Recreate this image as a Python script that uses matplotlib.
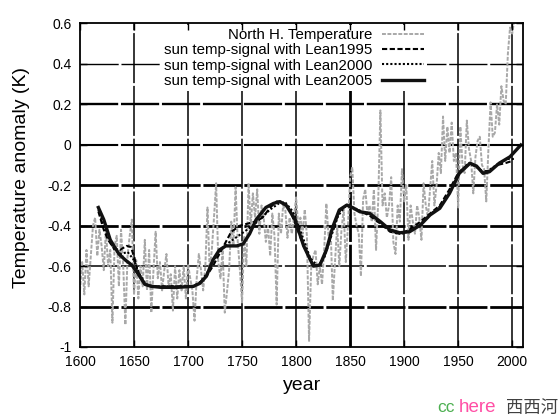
import numpy as np
import matplotlib
matplotlib.use("Agg")
import matplotlib.pyplot as plt

plt.rcParams['font.family'] = ['Liberation Sans', 'Noto Sans CJK SC', 'DejaVu Sans']
plt.rcParams['axes.unicode_minus'] = False

# ---------------- data ----------------
nh_start = 1600
nh_step = 2
nh_temp = [
    -0.72, -0.58, -0.74, -0.52, -0.70,   # 1600
    -0.55, -0.40, -0.36, -0.55, -0.42,   # 1610
    -0.50, -0.62, -0.42, -0.60, -0.52,   # 1620
    -0.88, -0.50, -0.45, -0.70, -0.42,   # 1630
    -0.60, -0.89, -0.55, -0.45, -0.37,   # 1640
    -0.74, -0.57, -0.76, -0.60, -0.70,   # 1650
    -0.47, -0.72, -0.52, -0.83, -0.62,   # 1660
    -0.43, -0.66, -0.58, -0.72, -0.62,   # 1670
    -0.54, -0.70, -0.64, -0.82, -0.60,   # 1680
    -0.76, -0.62, -0.72, -0.60, -0.76,   # 1690
    -0.59, -0.66, -0.72, -0.87, -0.66,   # 1700
    -0.54, -0.62, -0.72, -0.60, -0.31,   # 1710
    -0.62, -0.52, -0.36, -0.19, -0.58,   # 1720
    -0.66, -0.52, -0.83, -0.73, -0.62,   # 1730
    -0.38, -0.50, -0.21, -0.48, -0.62,   # 1740
    -0.78, -0.45, -0.60, -0.19, -0.40,   # 1750
    -0.24, -0.36, -0.22, -0.44, -0.30,   # 1760
    -0.36, -0.48, -0.40, -0.55, -0.34,   # 1770
    -0.45, -0.79, -0.34, -0.44, -0.30,   # 1780
    -0.32, -0.46, -0.36, -0.44, -0.36,   # 1790
    -0.26, -0.40, -0.36, -0.44, -0.32,   # 1800
    -0.45, -0.97, -0.60, -0.55, -0.52,   # 1810
    -0.69, -0.60, -0.69, -0.52, -0.29,   # 1820
    -0.45, -0.42, -0.77, -0.58, -0.40,   # 1830
    -0.60, -0.42, -0.32, -0.58, -0.40,   # 1840
    -0.16, -0.11, -0.34, -0.40, -0.44,   # 1850
    -0.65, -0.27, -0.22, -0.34, -0.30,   # 1860
    -0.38, -0.22, -0.52, -0.28, 0.17,    # 1870
    -0.30, -0.24, -0.36, -0.30, -0.16,   # 1880
    -0.48, -0.54, -0.30, -0.38, -0.12,   # 1890
    -0.28, -0.20, -0.47, -0.30, -0.38,   # 1900
    -0.44, -0.30, -0.36, -0.47, -0.19,   # 1910
    -0.30, -0.36, -0.22, -0.08, -0.30,   # 1920
    -0.20, -0.04, -0.14, 0.14, -0.08,    # 1930
    0.09, -0.04, 0.11, -0.08, -0.04,     # 1940
    -0.31, 0.09, -0.10, -0.14, 0.12,     # 1950
    -0.02, -0.08, -0.24, -0.06, 0.02,    # 1960
    0.04, -0.10, -0.12, -0.28, -0.02,    # 1970
    0.21, 0.04, 0.06, 0.20, 0.10,        # 1980
    0.29, 0.22, 0.20, 0.45, 0.58,        # 1990
    0.55, 0.62,                          # 2000
]
nh_years = nh_start + nh_step * np.arange(len(nh_temp))

lean1995_years = [1617, 1622, 1626, 1631, 1637, 1643, 1647, 1650, 1653, 1660, 1666, 1675,
                  1705, 1711, 1717, 1723, 1729, 1735, 1740, 1748, 1755, 1762, 1769, 1776,
                  1782, 1788, 1794, 1800, 1807, 1815, 1821, 1827, 1833, 1840, 1846, 1852,
                  1860, 1868, 1878, 1887, 1896, 1905, 1915, 1924, 1933, 1942, 1950, 1958,
                  1965, 1972, 1978, 1986, 1994, 2000]
lean1995_vals = [-0.33, -0.42, -0.47, -0.51, -0.52, -0.50, -0.505, -0.55, -0.62, -0.69, -0.70, -0.70,
                 -0.70, -0.68, -0.65, -0.60, -0.54, -0.48, -0.43, -0.40, -0.39, -0.38, -0.36, -0.31,
                 -0.28, -0.285, -0.32, -0.40, -0.50, -0.59, -0.60, -0.54, -0.43, -0.33, -0.30, -0.31,
                 -0.33, -0.35, -0.39, -0.43, -0.44, -0.42, -0.38, -0.34, -0.30, -0.22, -0.14, -0.10,
                 -0.10, -0.13, -0.13, -0.10, -0.09, -0.08]

lean2000_years = [1617, 1622, 1627, 1632, 1638, 1644, 1650, 1655, 1661, 1668, 1680, 1705,
                  1711, 1717, 1723, 1729, 1736, 1744, 1752, 1760, 1768, 1776, 1784, 1790,
                  1797, 1805, 1813, 1820, 1826, 1832, 1839, 1846, 1853, 1861, 1870, 1880,
                  1889, 1898, 1907, 1916, 1925, 1934, 1943, 1952, 1960, 1967, 1974, 1980,
                  1988, 1996, 2003]
lean2000_vals = [-0.32, -0.40, -0.47, -0.52, -0.54, -0.53, -0.57, -0.64, -0.69, -0.70, -0.70, -0.70,
                 -0.68, -0.64, -0.58, -0.53, -0.49, -0.46, -0.43, -0.40, -0.36, -0.32, -0.29, -0.285,
                 -0.33, -0.44, -0.56, -0.60, -0.56, -0.46, -0.35, -0.30, -0.31, -0.33, -0.35, -0.39,
                 -0.43, -0.44, -0.42, -0.39, -0.34, -0.30, -0.23, -0.13, -0.09, -0.11, -0.14, -0.12,
                 -0.09, -0.07, -0.07]

lean2005_years = [1617, 1622, 1628, 1636, 1642, 1648, 1654, 1660, 1666, 1675, 1690, 1705,
                  1711, 1717, 1723, 1729, 1735, 1745, 1751, 1757, 1763, 1772, 1779, 1785,
                  1791, 1799, 1807, 1816, 1822, 1828, 1834, 1840, 1847, 1852, 1859, 1868,
                  1878, 1887, 1896, 1905, 1915, 1924, 1933, 1942, 1951, 1961, 1967, 1973,
                  1979, 1988, 1998, 2008]
lean2005_vals = [-0.31, -0.37, -0.47, -0.54, -0.57, -0.595, -0.64, -0.69, -0.70, -0.705, -0.705, -0.70,
                 -0.685, -0.65, -0.57, -0.52, -0.50, -0.50, -0.49, -0.44, -0.37, -0.31, -0.29, -0.281,
                 -0.30, -0.37, -0.50, -0.60, -0.595, -0.52, -0.405, -0.322, -0.298, -0.31, -0.331, -0.339,
                 -0.38, -0.421, -0.435, -0.43, -0.397, -0.347, -0.314, -0.24, -0.141, -0.091, -0.105, -0.141,
                 -0.133, -0.091, -0.059, -0.001]

x_ticks = [1600, 1650, 1700, 1750, 1800, 1850, 1900, 1950, 2000]
y_ticks = [-1, -0.8, -0.6, -0.4, -0.2, 0, 0.2, 0.4, 0.6]
y_tick_labels = ['-1', '-0.8', '-0.6', '-0.4', '-0.2', '0', '0.2', '0.4', '0.6']

labels = ['North H. Temperature', 'sun temp-signal with Lean1995',
          'sun temp-signal with Lean2000', 'sun temp-signal with Lean2005']

# grid line weights (as rendered in the reference)
hgrid_levels = [0.4, 0.2, 0, -0.2, -0.4, -0.6, -0.8]
hgrid_widths = [1.0, 1.7, 1.5, 2.0, 2.0, 1.1, 2.0]
vgrid_years = [1650, 1700, 1750, 1800, 1850, 1900, 1950, 2000]
vgrid_widths = [1.1, 1.1, 1.1, 1.1, 2.0, 1.1, 1.1, 1.1]

# ---------------- figure ----------------
fig = plt.figure(figsize=(5.6, 4.2), dpi=100)
W, H = 560, 420
ax = fig.add_axes([80 / W, 1 - 347 / H, (523 - 80) / W, (347 - 23.5) / H])

ax.set_xlim(1600, 2010)
ax.set_ylim(-1, 0.6)
ax.set_xticks(x_ticks)
ax.set_yticks(y_ticks)
ax.set_yticklabels(y_tick_labels)
ax.tick_params(direction='in', length=5, width=1, top=True, right=True,
               labelsize=10, pad=6, colors='black')
for s in ax.spines.values():
    s.set_linewidth(1.3)
    s.set_zorder(7)
ax.xaxis.set_zorder(7)
ax.yaxis.set_zorder(7)

for lev, w in zip(hgrid_levels, hgrid_widths):
    ax.axhline(lev, color='black', linewidth=w, dashes=(27.5 / w, 2.0 / w), zorder=1)
for yr, w in zip(vgrid_years, vgrid_widths):
    ax.axvline(yr, color='black', linewidth=w, dashes=(36.0 / w, 2.0 / w), zorder=1)

ax.plot(nh_years, nh_temp, color='#a8a8a8', linewidth=1.4, linestyle=(0, (2, 0.8)),
        label=labels[0], zorder=2)
ax.plot(lean1995_years, lean1995_vals, color='black', linewidth=1.5,
        linestyle=(0, (2.5, 1.2)), label=labels[1], zorder=3)
ax.plot(lean2000_years, lean2000_vals, color='black', linewidth=1.5,
        linestyle=(0, (1, 1)), label=labels[2], zorder=3)
ax.plot(lean2005_years, lean2005_vals, color='#111111', linewidth=2.4,
        linestyle='-', label=labels[3], zorder=4)

leg = ax.legend(loc='upper right', bbox_to_anchor=(0.80, 1.018), frameon=True,
                facecolor='white', edgecolor='none', framealpha=1.0, fancybox=False,
                markerfirst=False, fontsize=10.8, handlelength=2.8, handletextpad=0.65,
                labelspacing=0.08, borderpad=0.2)
leg.set_zorder(5)

fig.text(22 / W, 1 - 178 / H, 'Temperature anomaly (K)', rotation=90,
         ha='center', va='center', fontsize=14)
fig.text(302 / W, 1 - 386 / H, 'year', ha='center', va='center', fontsize=14)

# watermark
fig.text(437 / W, 1 - 408 / H, 'cc', color='#4caf50', fontsize=12.5, ha='left', va='center')
fig.text(459 / W, 1 - 408 / H, 'here', color='#ff4fa5', fontsize=13.5, ha='left', va='center')
fig.text(506 / W, 1 - 408 / H, '西西河', color='#404040', fontsize=12.5, ha='left', va='center',
         family=['Noto Sans CJK SC', 'DejaVu Sans'])

fig.savefig('out.png', dpi=100)
